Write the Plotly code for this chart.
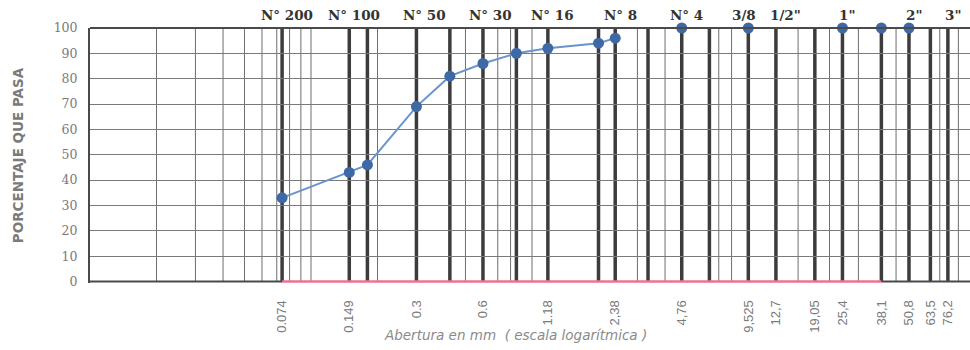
import math
import plotly.graph_objects as go

# ---------------- data ----------------
sieve_mm = [0.074, 0.149, 0.18, 0.3, 0.425, 0.6, 0.85, 1.18, 2.0, 2.38]
passing_pct = [33, 43, 46, 69, 81, 86, 90, 92, 94, 96]
coarse_mm = [4.76, 9.525, 25.4, 38.1, 50.8]
coarse_pct = [100, 100, 100, 100, 100]

sieve_lines = [0.074, 0.149, 0.18, 0.3, 0.425, 0.6, 0.85, 1.18, 2.0, 2.38, 3.35,
               4.76, 6.35, 9.525, 12.7, 19.05, 25.4, 38.1, 50.8, 63.5, 76.2]
grid_lines = [0.02, 0.03, 0.04, 0.05, 0.06, 0.07, 0.08, 0.09, 0.1, 0.2, 0.5, 0.7,
              0.8, 1.0, 3.0, 4.0, 7.0, 8.0, 16.0, 22.2, 30.0, 44.4, 70.0, 85.0]

tick_vals = [0.074, 0.149, 0.3, 0.6, 1.18, 2.38, 4.76, 9.525, 12.7, 19.05, 25.4,
             38.1, 50.8, 63.5, 76.2]
tick_text = ["0.074", "0.149", "0.3", "0.6", "1.18", "2,38", "4,76", "9,525", "12,7",
             "19,05", "25,4", "38,1", "50,8", "63,5", "76,2"]

top_vals = [0.074, 0.149, 0.3, 0.6, 1.18, 2.38, 4.76, 9.525, 12.7, 25.4, 50.8, 76.2]
top_text = ["N° 200", "N° 100", "N° 50", "N° 30", "N° 16", "N° 8", "N° 4", "3/8",
            "1/2\"", "1\"", "2\"", "3\""]

zero_span = [0.074, 38.1]
zero_val = [0, 0]

y_ticks = [0, 10, 20, 30, 40, 50, 60, 70, 80, 90, 100]

x_range_log = [-2, 1.982]

# label nudges (layout only, in pixels)
label_shift = {"3/8": -4, "1/2\"": 10, "N° 50": 8, "N° 30": 8}

# ---------------- figure ----------------
fig = go.Figure()

x_lo = 10 ** x_range_log[0]
x_hi = 10 ** x_range_log[1]

shapes = []
for v in grid_lines:
    shapes.append(dict(type="line", xref="x", yref="y", x0=v, x1=v, y0=0, y1=100,
                       line=dict(color="#6e6e6e", width=1), layer="below"))
for v in sieve_lines:
    shapes.append(dict(type="line", xref="x", yref="y", x0=v, x1=v, y0=0, y1=100,
                       line=dict(color="#3c3c3c", width=3.5), layer="below"))
# frame: top border and bottom border segments outside the pink span
shapes.append(dict(type="line", xref="paper", yref="paper", x0=0, x1=1, y0=1, y1=1,
                   line=dict(color="#4a4a4a", width=2), layer="above"))
shapes.append(dict(type="line", xref="x", yref="y", x0=x_lo, x1=zero_span[0], y0=0, y1=0,
                   line=dict(color="#4a4a4a", width=2), layer="above"))
shapes.append(dict(type="line", xref="x", yref="y", x0=zero_span[1], x1=x_hi, y0=0, y1=0,
                   line=dict(color="#4a4a4a", width=2), layer="above"))

# pink base line on 0 %
fig.add_trace(go.Scatter(x=zero_span, y=zero_val, mode="lines",
                         line=dict(color="#ee7393", width=2.5),
                         hoverinfo="skip", showlegend=False))

fig.add_trace(go.Scatter(x=sieve_mm, y=passing_pct, mode="lines+markers",
                         line=dict(color="#6a95cc", width=2),
                         marker=dict(color="#3d69a6", size=11),
                         showlegend=False, cliponaxis=False))
fig.add_trace(go.Scatter(x=coarse_mm, y=coarse_pct, mode="markers",
                         marker=dict(color="#3d69a6", size=11),
                         showlegend=False, cliponaxis=False))

annotations = []
for v, t in zip(top_vals, top_text):
    annotations.append(dict(x=math.log10(v), y=1.0, xref="x", yref="paper",
                            text="<b>" + t + "</b>",
                            showarrow=False, yanchor="bottom", xanchor="center",
                            xshift=label_shift.get(t, 5), yshift=3,
                            font=dict(family="DejaVu Serif", size=13.5, color="#333333")))
annotations.append(dict(x=0.484, y=-0.205, xref="paper", yref="paper",
                        text="<i>Abertura en mm  ( escala logarítmica )</i>",
                        showarrow=False, xanchor="center", yanchor="middle",
                        font=dict(family="DejaVu Sans", size=13.5, color="#8a8a8a")))

fig.update_layout(
    width=970, height=350,
    margin=dict(l=90, r=0, t=28, b=67),
    paper_bgcolor="white", plot_bgcolor="white",
    shapes=shapes, annotations=annotations,
    xaxis=dict(type="log", range=x_range_log, showgrid=False, zeroline=False,
               tickmode="array", tickvals=tick_vals, ticktext=tick_text,
               tickangle=-90, ticks="outside", ticklen=11, tickcolor="rgba(0,0,0,0)",
               tickfont=dict(family="Liberation Sans", size=13, color="#7a7a7a"),
               showline=False),
    yaxis=dict(range=[-0.6, 100], tickvals=y_ticks, showgrid=True, gridcolor="#7a7a7a",
               gridwidth=1.3, zeroline=False, showline=True, linecolor="#4a4a4a",
               linewidth=2, ticks="outside", ticklen=8, tickcolor="rgba(0,0,0,0)",
               tickfont=dict(family="DejaVu Serif", size=12.5, color="#7a7a7a"),
               title=dict(text="<b>PORCENTAJE QUE PASA</b>", standoff=27,
                          font=dict(family="DejaVu Sans", size=13.5, color="#7a7a7a"))),
)

fig.write_html("out.html")
